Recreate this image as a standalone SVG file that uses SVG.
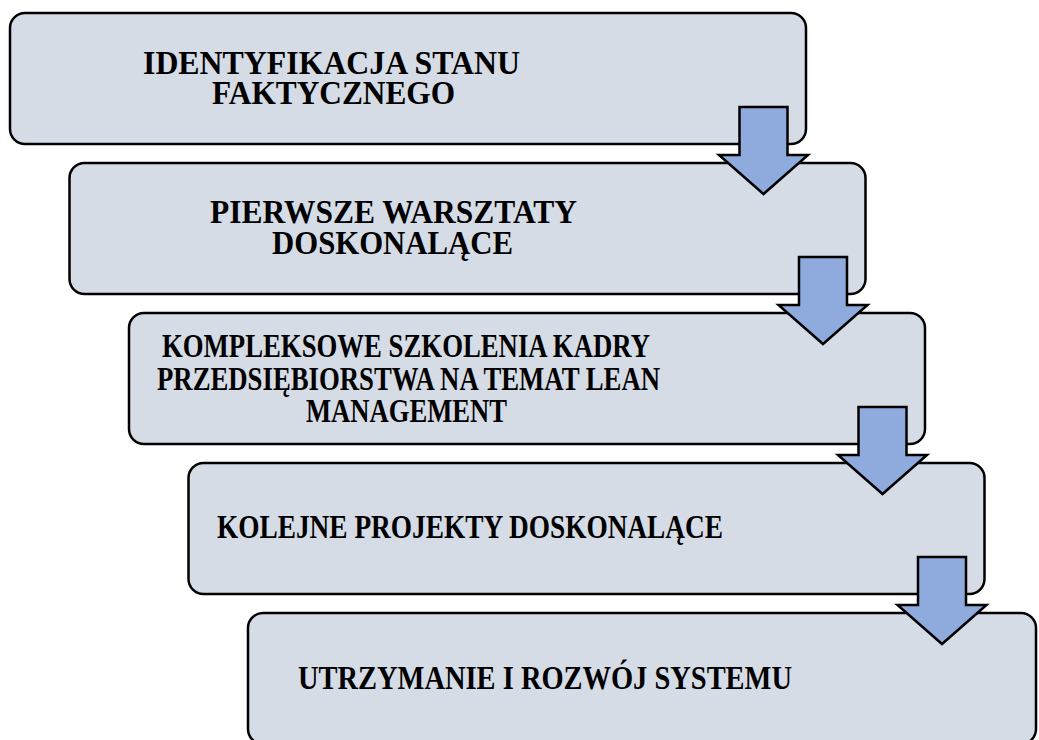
<svg xmlns="http://www.w3.org/2000/svg" width="1039" height="740" viewBox="0 0 1039 740">
<style>
.box{fill:#D6DCE5;stroke:#000;stroke-width:2.5}
.arr{fill:#8FAADC;stroke:#000;stroke-width:2.5;stroke-linejoin:miter}
.t{font-family:"Liberation Serif","Times New Roman",serif;font-weight:bold;font-size:33px;fill:#000}
</style>
<rect width="1039" height="740" fill="#fff"/>
<g id="node1"><rect class="box" x="10" y="13" width="796" height="131" rx="15"/>
<text class="t" x="143" y="74" textLength="377" lengthAdjust="spacingAndGlyphs">IDENTYFIKACJA STANU</text>
<text class="t" x="212" y="104" textLength="243" lengthAdjust="spacingAndGlyphs">FAKTYCZNEGO</text></g>
<g id="node2"><rect class="box" x="69.5" y="163" width="796" height="131" rx="15"/>
<text class="t" x="210" y="223" textLength="367" lengthAdjust="spacingAndGlyphs">PIERWSZE WARSZTATY</text>
<text class="t" x="272" y="254" textLength="241" lengthAdjust="spacingAndGlyphs">DOSKONALĄCE</text></g>
<g id="node3"><rect class="box" x="129" y="313" width="796" height="131" rx="15"/>
<text class="t" x="162" y="357" textLength="488" lengthAdjust="spacingAndGlyphs">KOMPLEKSOWE SZKOLENIA KADRY</text>
<text class="t" x="157" y="390" textLength="503" lengthAdjust="spacingAndGlyphs">PRZEDSIĘBIORSTWA NA TEMAT LEAN</text>
<text class="t" x="306" y="422" textLength="201" lengthAdjust="spacingAndGlyphs">MANAGEMENT</text></g>
<g id="node4"><rect class="box" x="188.5" y="463" width="796" height="131" rx="15"/>
<text class="t" x="217" y="538" textLength="506" lengthAdjust="spacingAndGlyphs">KOLEJNE PROJEKTY DOSKONALĄCE</text></g>
<g id="node5"><rect class="box" x="248" y="613" width="788" height="131" rx="15"/>
<text class="t" x="298" y="689" textLength="494" lengthAdjust="spacingAndGlyphs">UTRZYMANIE I ROZWÓJ SYSTEMU</text></g>
<g id="connectors">
<path class="arr" d="M739.5,107 H787.5 V155 H808 L763.5,194 L719,155 H739.5 Z"/>
<path class="arr" d="M799,257 H847 V305 H867.5 L823,344 L778.5,305 H799 Z"/>
<path class="arr" d="M858.5,407 H906.5 V455 H927 L882.5,494 L838,455 H858.5 Z"/>
<path class="arr" d="M918,557 H966 V605 H986.5 L942,644 L897.5,605 H918 Z"/>
</g>
</svg>
